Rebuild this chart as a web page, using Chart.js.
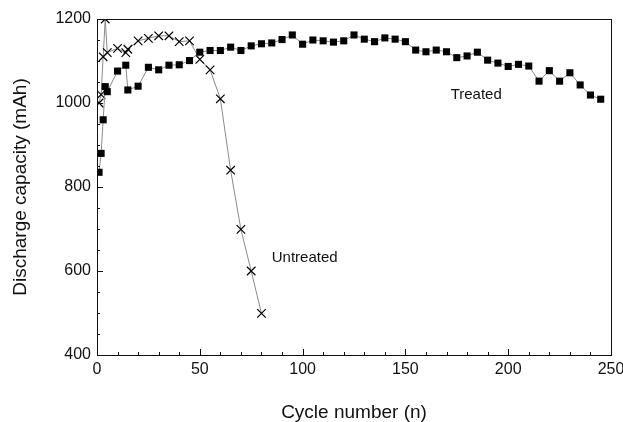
<!DOCTYPE html>
<html>
    <head>
        <meta charset="UTF-8">
        <title>Discharge capacity</title>
        <script src="https://cdn.jsdelivr.net/npm/chart.js@4"></script>
        <style>
            body{margin:0;background:#fff;}
            #chartContainer{width:623px;height:422px;}
        </style>
    </head>
    <body>
        <div id="chartContainer"><canvas id="chart"></canvas></div>
        <script>
            // values
            const treatedCycles=[1,2,3,4,5,10,14,15,20,25,30,35,40,45,50,55,60,65,70,75,80,85,90,95,100,
                105,110,115,120,125,130,135,140,145,150,155,160,165,170,175,180,185,190,195,200,
                205,210,215,220,225,230,235,240,245];
            const treatedCapacity=[835,880,960,1039,1027,1076,1090,1031,1040,1085,1079,1090,1091,1101,1121,1125,1125,1133,1125,1136,1141,1143,1151,1162,1140,
                1150,1148,1145,1148,1162,1152,1146,1155,1152,1146,1126,1122,1126,1122,1108,1112,1121,1102,1095,1087,
                1092,1088,1052,1077,1052,1072,1043,1019,1009];
            const untreatedCycles=[1,2,3,4,5,10,14,15,20,25,30,35,40,45,50,55,60,65,70,75,80];
            const untreatedCapacity=[1000,1020,1110,1200,1120,1130,1120,1128,1148,1154,1160,1160,1146,1148,1104,1079,1010,840,699,600,499];
            const xTicks=[0,50,100,150,200,250];
            const yTicks=[400,600,800,1000,1200];
            const labels=[
                {text:"Treated",x:172,y:1019},
                {text:"Untreated",x:85,y:631}
            ];

            const toPoints=(xs,ys)=>xs.map((x,i)=>({x:x,y:ys[i]}));
            const font="'Liberation Sans', Arial, sans-serif";
            const ink="#111";

            // frame, inward ticks and text labels
            const framePlugin={
                id:"frame",
                afterDraw(chart){
                    const {ctx,chartArea:a,scales:{x,y}}=chart;
                    ctx.save();
                    ctx.strokeStyle=ink;
                    ctx.lineWidth=1;
                    ctx.strokeRect(a.left+0.5,a.top+0.5,a.right-a.left,a.bottom-a.top);
                    ctx.beginPath();
                    for(let v=x.min;v<=x.max;v+=10){
                        const px=Math.round(x.getPixelForValue(v))+0.5;
                        const len=v%50==0?6:3;
                        ctx.moveTo(px,a.bottom);
                        ctx.lineTo(px,a.bottom-len);
                    }
                    for(let v=y.min;v<=y.max;v+=50){
                        const py=Math.round(y.getPixelForValue(v))+0.5;
                        const len=v%200==0?6:3;
                        ctx.moveTo(a.left,py);
                        ctx.lineTo(a.left+len,py);
                    }
                    ctx.stroke();
                    ctx.fillStyle=ink;
                    ctx.font="15px "+font;
                    ctx.textBaseline="middle";
                    for(const l of labels){
                        ctx.fillText(l.text,x.getPixelForValue(l.x),y.getPixelForValue(l.y));
                    }
                    ctx.restore();
                }
            };

            const chart=new Chart(document.getElementById("chart"),{
                type:"scatter",
                data:{
                    datasets:[
                        {
                            data:toPoints(treatedCycles,treatedCapacity),
                            showLine:true,
                            borderColor:"#8a8a8a",
                            borderWidth:1,
                            pointStyle:"rect",
                            pointRadius:5,
                            pointBackgroundColor:"#000",
                            pointBorderColor:"#000",
                            pointBorderWidth:0
                        },
                        {
                            data:toPoints(untreatedCycles,untreatedCapacity),
                            showLine:true,
                            borderColor:"#8a8a8a",
                            borderWidth:1,
                            pointStyle:"crossRot",
                            pointRadius:6,
                            pointBorderColor:"#000",
                            pointBorderWidth:1.2
                        }
                    ]
                },
                options:{
                    responsive:true,
                    maintainAspectRatio:false,
                    animation:false,
                    layout:{padding:{top:19,right:12,left:0,bottom:0}},
                    plugins:{legend:{display:false},tooltip:{enabled:false}},
                    scales:{
                        x:{
                            type:"linear",
                            min:0,max:250,
                            afterBuildTicks:s=>{s.ticks=xTicks.map(v=>({value:v}));},
                            afterFit:s=>{s.height=67;s.paddingLeft=0;s.paddingRight=0;},
                            grid:{display:false,drawTicks:false},
                            border:{display:false},
                            ticks:{color:ink,padding:5,font:{family:font,size:16},callback:v=>String(v)},
                            title:{display:true,text:"Cycle number (n)",color:ink,
                                padding:{top:0,bottom:0},font:{family:font,size:19,lineHeight:1}}
                        },
                        y:{
                            min:400,max:1200,
                            afterBuildTicks:s=>{s.ticks=yTicks.map(v=>({value:v}));},
                            afterFit:s=>{s.width=97;s.paddingTop=0;s.paddingBottom=0;},
                            grid:{display:false,drawTicks:false},
                            border:{display:false},
                            ticks:{color:ink,padding:6,font:{family:font,size:16},callback:v=>String(v)},
                            title:{display:true,text:"Discharge capacity (mAh)",color:ink,
                                padding:{top:9,bottom:0},font:{family:font,size:19,lineHeight:1.2}}
                        }
                    }
                },
                plugins:[framePlugin]
            });
        </script>
    </body>
</html>
